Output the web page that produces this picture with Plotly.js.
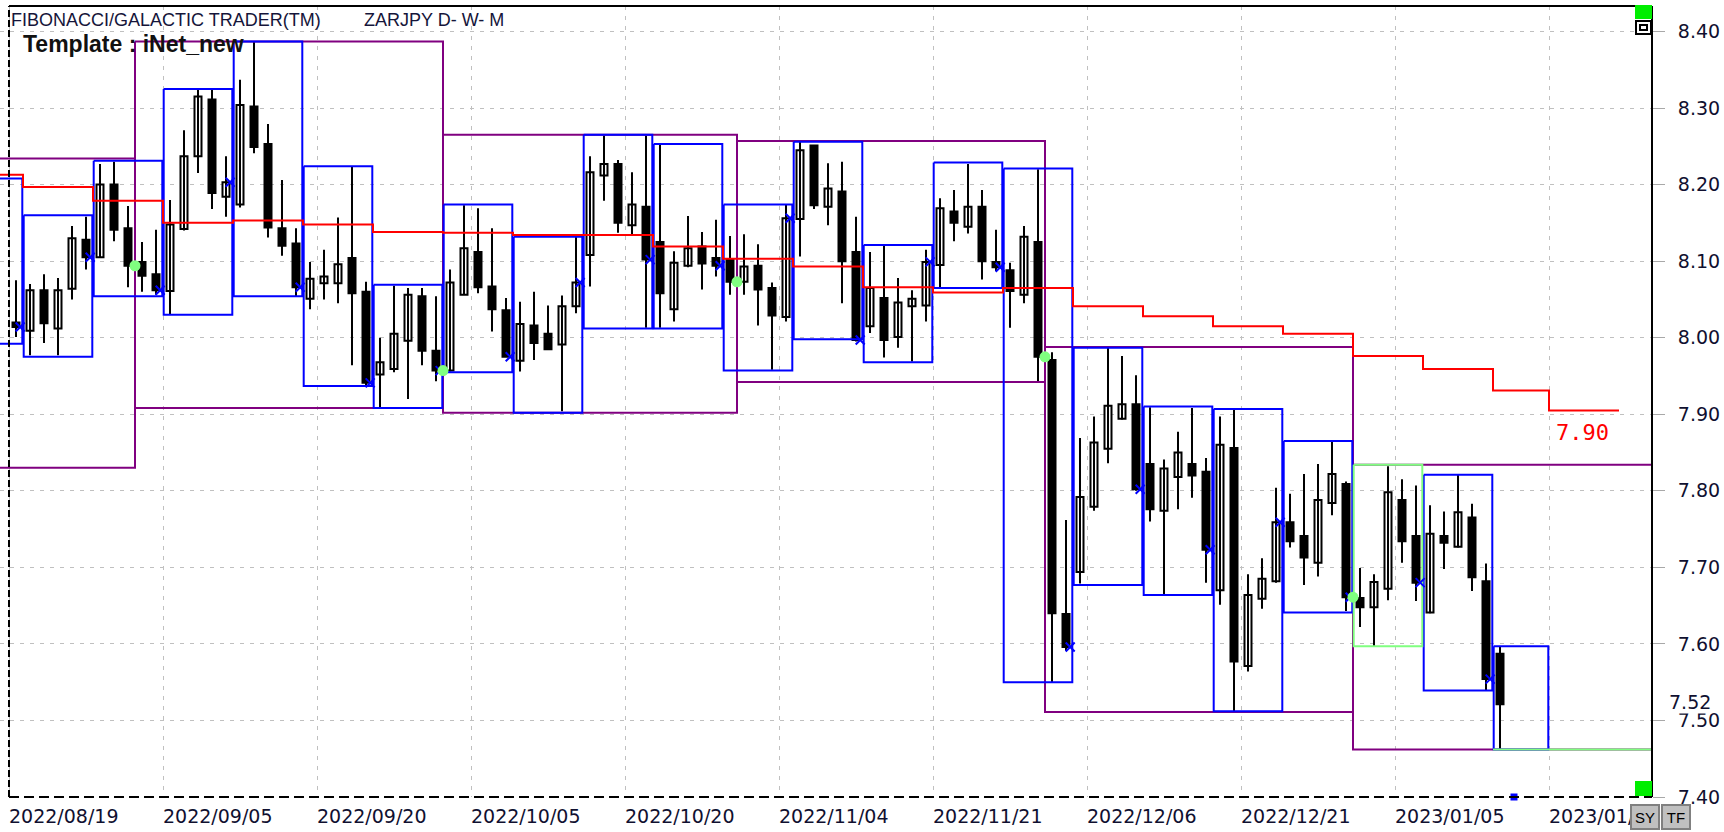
<!DOCTYPE html>
<html><head><meta charset="utf-8">
<script src="https://cdn.plot.ly/plotly-3.0.1.min.js"></script>
<style>html,body{margin:0;padding:0;background:#fff;overflow:hidden}#chart{width:1724px;height:832px}</style>
</head><body><div id="chart"></div>
<script>
// ---------- DATA ----------
const dates = [
'2022/08/19',
'2022/08/22','2022/08/23','2022/08/24','2022/08/25','2022/08/26',
'2022/08/29','2022/08/30','2022/08/31','2022/09/01','2022/09/02',
'2022/09/05','2022/09/06','2022/09/07','2022/09/08','2022/09/09',
'2022/09/12','2022/09/13','2022/09/14','2022/09/15','2022/09/16',
'2022/09/19','2022/09/20','2022/09/21','2022/09/22','2022/09/23',
'2022/09/26','2022/09/27','2022/09/28','2022/09/29','2022/09/30',
'2022/10/03','2022/10/04','2022/10/05','2022/10/06','2022/10/07',
'2022/10/10','2022/10/11','2022/10/12','2022/10/13','2022/10/14',
'2022/10/17','2022/10/18','2022/10/19','2022/10/20','2022/10/21',
'2022/10/24','2022/10/25','2022/10/26','2022/10/27','2022/10/28',
'2022/10/31','2022/11/01','2022/11/02','2022/11/03','2022/11/04',
'2022/11/07','2022/11/08','2022/11/09','2022/11/10','2022/11/11',
'2022/11/14','2022/11/15','2022/11/16','2022/11/17','2022/11/18',
'2022/11/21','2022/11/22','2022/11/23','2022/11/24','2022/11/25',
'2022/11/28','2022/11/29','2022/11/30','2022/12/01','2022/12/02',
'2022/12/05','2022/12/06','2022/12/07','2022/12/08','2022/12/09',
'2022/12/12','2022/12/13','2022/12/14','2022/12/15','2022/12/16',
'2022/12/19','2022/12/20','2022/12/21','2022/12/22','2022/12/23',
'2022/12/26','2022/12/27','2022/12/28','2022/12/29','2022/12/30',
'2023/01/02','2023/01/03','2023/01/04','2023/01/05','2023/01/06',
'2023/01/09','2023/01/10','2023/01/11','2023/01/12','2023/01/13',
'2023/01/16','2023/01/17','2023/01/18','2023/01/19','2023/01/20',
'2023/01/23','2023/01/24','2023/01/25','2023/01/26','2023/01/27',
'2023/01/30'];

const opens = [
8.020,8.009,8.062,8.012,8.064,8.128,8.105,8.200,8.143,8.099,8.083,
8.061,8.142,8.237,8.311,8.184,8.174,8.302,8.253,8.143,8.123,
8.051,8.071,8.071,8.104,8.060,7.952,7.959,7.996,8.054,7.983,
7.957,8.056,8.112,8.067,8.036,7.970,8.016,8.005,7.991,8.041,
8.108,8.212,8.227,8.147,8.171,8.125,8.037,8.094,8.119,8.104,
8.102,8.073,8.094,8.065,8.027,8.155,8.251,8.171,8.191,8.112,
8.015,8.052,8.001,8.041,8.042,8.095,8.165,8.145,8.171,8.099,
8.088,8.056,8.125,7.971,7.639,7.694,7.779,7.855,7.894,7.913,
7.835,7.774,7.818,7.835,7.825,7.670,7.856,7.571,7.659,7.682,
7.759,7.741,7.706,7.784,7.809,7.660,7.648,7.672,7.788,7.741,
7.641,7.741,7.727,7.765,7.682,7.587];
const highs = [
8.075,8.070,8.083,8.078,8.146,8.158,8.227,8.230,8.172,8.125,8.141,
8.180,8.271,8.324,8.324,8.237,8.337,8.387,8.279,8.206,8.143,
8.099,8.115,8.157,8.223,8.073,8.000,8.068,8.065,8.065,8.054,
8.089,8.173,8.169,8.143,8.052,8.047,8.060,8.042,8.055,8.132,
8.237,8.264,8.232,8.216,8.264,8.252,8.113,8.159,8.138,8.154,
8.133,8.135,8.122,8.072,8.174,8.256,8.251,8.228,8.230,8.158,
8.112,8.120,8.078,8.062,8.115,8.182,8.193,8.227,8.193,8.141,
8.098,8.146,8.220,7.981,7.762,7.869,7.897,7.987,7.976,7.951,
7.909,7.841,7.877,7.908,7.843,7.897,7.906,7.691,7.712,7.804,
7.796,7.822,7.835,7.865,7.812,7.699,7.691,7.832,7.815,7.807,
7.781,7.773,7.821,7.783,7.705,7.597];
const lows = [
8.001,7.977,7.993,7.977,8.050,8.089,8.104,8.126,8.066,8.060,8.056,
8.031,8.140,8.215,8.168,8.158,8.170,8.241,8.131,8.107,8.054,
8.037,8.050,8.045,7.964,7.938,7.908,7.955,7.920,7.964,7.943,
7.956,8.056,8.058,8.008,7.975,7.956,7.971,7.985,7.904,8.032,
8.067,8.179,8.137,8.134,8.013,8.013,8.021,8.092,8.063,8.080,
8.056,8.056,8.016,7.958,8.021,8.106,8.168,8.147,8.045,7.995,
8.006,7.974,7.987,7.969,8.021,8.065,8.126,8.136,8.076,8.087,
8.013,8.045,7.942,7.550,7.591,7.679,7.774,7.836,7.893,7.800,
7.760,7.665,7.776,7.791,7.680,7.651,7.512,7.564,7.646,7.680,
7.726,7.677,7.688,7.768,7.643,7.622,7.597,7.657,7.706,7.656,
7.640,7.698,7.726,7.669,7.539,7.462];
const closes = [
8.014,8.062,8.019,8.062,8.130,8.105,8.200,8.141,8.094,8.081,8.062,
8.148,8.237,8.315,8.189,8.203,8.304,8.249,8.144,8.120,8.066,
8.077,8.080,8.096,8.058,7.941,7.968,8.005,8.056,7.983,7.957,
8.072,8.117,8.066,8.037,7.975,8.018,7.993,7.985,8.041,8.072,
8.216,8.227,8.150,8.174,8.102,8.058,8.098,8.117,8.097,8.094,
8.073,8.093,8.063,8.029,8.156,8.245,8.173,8.195,8.100,7.997,
8.065,7.997,8.046,8.051,8.099,8.169,8.150,8.171,8.100,8.092,
8.061,8.132,7.975,7.640,7.596,7.792,7.863,7.911,7.913,7.802,
7.776,7.829,7.850,7.820,7.723,7.860,7.577,7.664,7.685,7.759,
7.734,7.713,7.788,7.822,7.661,7.648,7.681,7.798,7.734,7.680,
7.744,7.732,7.772,7.687,7.554,7.521];

const tickLabels = ['2022/08/19','2022/09/05','2022/09/20','2022/10/05','2022/10/20','2022/11/04',
                    '2022/11/21','2022/12/06','2022/12/21','2023/01/05','2023/01/20'];
const yTicks = [7.40,7.50,7.60,7.70,7.80,7.90,8.00,8.10,8.20,8.30,8.40];

// weekly ranges (first / last bar of each week)
const weekStart = [-4,1,6,11,16,21,26,31,36,41,46,51,56,61,66,71,76,81,86,91,96,101,106];
const weekEnd   = [0,5,10,15,20,25,30,35,40,45,50,55,60,65,70,75,80,85,90,95,100,105,109];
const weekHigh  = [8.208,8.160,8.231,8.325,8.387,8.224,8.069,8.174,8.132,8.265,8.253,8.174,
                   8.256,8.121,8.229,8.221,7.987,7.910,7.907,7.865,7.834,7.821,7.597];
const weekLow   = [7.992,7.975,8.054,8.030,8.054,7.937,7.908,7.955,7.902,8.012,8.012,7.957,
                   7.998,7.968,8.065,7.550,7.677,7.664,7.512,7.641,7.597,7.539,7.462];

// monthly ranges
const monthStart = [-12,9,31,52,74,96];
const monthEnd   = [8,30,51,73,95,117];
const monthHigh  = [8.234,8.387,8.265,8.257,7.988,7.834];
const monthLow   = [7.830,7.908,7.902,7.942,7.511,7.462];

// stepped weekly average (red)
const maStart = [-4,1,6,11,16,21,26,31,36,41,46,51,56,61,66,71,76,81,86,91,96,101,106,110];
const maLevel = [8.213,8.197,8.179,8.150,8.153,8.148,8.138,8.137,8.134,8.134,8.119,8.103,
                 8.093,8.066,8.059,8.065,8.041,8.028,8.015,8.005,7.976,7.959,7.931,7.905];
const maLastBar = 114;
const maLabel = '7.90';
const lastPriceLabel = '7.52';

// ---------- BUILD ----------
const N = opens.length;
const BLUE='#0000FF', PURPLE='#800080', LGREEN='#80FF80', RED='#FF0000';

const wx=[], wy=[];
for (let i=0;i<N;i++){ wx.push(i,i,null); wy.push(lows[i],highs[i],null); }
const up={x:[],b:[],h:[]}, dn={x:[],b:[],h:[]};
for (let i=0;i<N;i++){
  const o=opens[i], c=closes[i], t=(c>=o)?up:dn;
  t.x.push(i); t.b.push(Math.min(o,c)); t.h.push(Math.max(Math.abs(c-o),0.0015));
}
function addBox(p,x0,x1,lo,hi){ p.x.push(x0,x1,x1,x0,x0,null); p.y.push(hi,hi,lo,lo,hi,null); }
const lastMonthStart = monthStart[monthStart.length-1];
const wBlue={x:[],y:[]}, wGreen={x:[],y:[]}, mPurple={x:[],y:[]};
for (let k=0;k<weekStart.length;k++){
  const tgt = (weekStart[k]===lastMonthStart)?wGreen:wBlue;
  addBox(tgt, weekStart[k]-0.45, weekEnd[k]+0.45, weekLow[k], weekHigh[k]);
}
for (let k=0;k<monthStart.length;k++) addBox(mPurple, monthStart[k]-0.5, monthEnd[k]+0.5, monthLow[k], monthHigh[k]);
const lw = weekStart.length-1, lm = monthStart.length-1;
wGreen.x.push(weekStart[lw]-0.5, monthEnd[lm]+0.5, null); wGreen.y.push(monthLow[lm], monthLow[lm], null);

const rx=[], ry=[];
for (let k=0;k<maStart.length;k++){ rx.push(maStart[k]-0.5); ry.push(maLevel[k]); }
rx.push(maLastBar+0.5); ry.push(maLevel[maLevel.length-1]);

const wkX=[], wkY=[];
for (let k=0;k<weekEnd.length;k++) if (weekEnd[k] < N-1){ wkX.push(weekEnd[k]+0.3); wkY.push(closes[weekEnd[k]]); }
const moX=[], moY=[];
for (let k=0;k<monthEnd.length;k++) if (monthEnd[k] >= 0 && monthEnd[k] < N-1){ moX.push(monthEnd[k]+0.5); moY.push(closes[monthEnd[k]]); }

const traces = [
  {type:'scatter',mode:'lines',x:wx,y:wy,line:{color:'#000',width:2},hoverinfo:'skip'},
  {type:'bar',x:up.x,base:up.b,y:up.h,width:0.5,marker:{color:'#fff',line:{color:'#000',width:2}},hoverinfo:'skip'},
  {type:'bar',x:dn.x,base:dn.b,y:dn.h,width:0.5,marker:{color:'#000',line:{color:'#000',width:2}},hoverinfo:'skip'},
  {type:'scatter',mode:'lines',x:mPurple.x,y:mPurple.y,line:{color:PURPLE,width:2},hoverinfo:'skip'},
  {type:'scatter',mode:'lines',x:wBlue.x,y:wBlue.y,line:{color:BLUE,width:2},hoverinfo:'skip'},
  {type:'scatter',mode:'lines',x:wGreen.x,y:wGreen.y,line:{color:LGREEN,width:2},hoverinfo:'skip'},
  {type:'scatter',mode:'lines',x:rx,y:ry,line:{color:RED,width:2,shape:'hv'},hoverinfo:'skip'},
  {type:'scatter',mode:'markers',x:wkX,y:wkY,marker:{symbol:'x-thin',size:9,line:{color:BLUE,width:2}},hoverinfo:'skip'},
  {type:'scatter',mode:'markers',x:moX,y:moY,marker:{symbol:'circle',size:11,color:LGREEN},hoverinfo:'skip'},
  {type:'scatter',mode:'markers',x:[N],y:[yTicks[0]],cliponaxis:false,marker:{symbol:'square',size:7,color:BLUE},hoverinfo:'skip'}
];

const PW = 1652, PT = 6, PB = 797, PH = PB-PT;
const px = v => v/PW, py = v => (PB-v)/PH;
const gridDash = '4px,6px';
const tickFont = {family:'DejaVu Sans, Liberation Sans, sans-serif', size:19, color:'#101030'};
const headFont = {family:'Liberation Sans Narrow, Liberation Sans, sans-serif', size:18, color:'#15153a'};

const layout = {
  width:1724, height:832,
  margin:{l:0,r:1724-PW,t:PT,b:832-PB,pad:0},
  paper_bgcolor:'#fff', plot_bgcolor:'#fff',
  showlegend:false, hovermode:false, barmode:'overlay', bargap:0,
  xaxis:{range:[-1.143,116.857], tickvals:tickLabels.map(d=>dates.indexOf(d)-0.5), ticktext:tickLabels,
         ticklabelposition:'outside right', ticklabelstandoff:6, showgrid:true, gridcolor:'#c0c0c0', griddash:gridDash, gridwidth:1,
         zeroline:false, showline:false, ticks:'', tickfont:tickFont, fixedrange:true},
  yaxis:{range:[7.4,8.4333], side:'right', tickvals:yTicks, ticktext:yTicks.map(v=>v.toFixed(2)),
         ticks:'outside', ticklen:12, tickcolor:'#a8a8a8', tickwidth:1, ticklabelstandoff:9,
         showgrid:true, gridcolor:'#c0c0c0', griddash:gridDash, gridwidth:1, zeroline:false, showline:false,
         tickfont:tickFont, fixedrange:true},
  shapes:[
    {type:'line',xref:'paper',yref:'paper',x0:px(9),x1:1,y0:py(6),y1:py(6),line:{color:'#000',width:2},layer:'above'},
    {type:'line',xref:'paper',yref:'paper',x0:1,x1:1,y0:0,y1:py(6),line:{color:'#000',width:2},layer:'above'},
    {type:'line',xref:'x',yref:'paper',x0:-0.5,x1:-0.5,y0:0,y1:py(6),line:{color:'#000',width:2,dash:'7px,3px'},layer:'above'},
    {type:'line',xref:'paper',yref:'paper',x0:px(9),x1:1,y0:0,y1:0,line:{color:'#000',width:2,dash:'10px,5px'},layer:'above'},
    {type:'rect',xref:'paper',yref:'paper',x0:px(1635),x1:1,y0:py(19),y1:py(5),fillcolor:'#00EE00',line:{width:0},layer:'above'},
    {type:'rect',xref:'paper',yref:'paper',x0:px(1636),x1:px(1651),y0:py(34),y1:py(21),fillcolor:'#fff',line:{color:'#000',width:2},layer:'above'},
    {type:'rect',xref:'paper',yref:'paper',x0:px(1640),x1:px(1647),y0:py(30),y1:py(25),fillcolor:'#fff',line:{color:'#000',width:2},layer:'above'},
    {type:'rect',xref:'paper',yref:'paper',x0:px(1635),x1:1,y0:py(796),y1:py(781),fillcolor:'#00EE00',line:{width:0},layer:'above'}
  ],
  annotations:[
    {xref:'paper',yref:'paper',x:px(9),y:py(20),xanchor:'left',yanchor:'middle',showarrow:false,
     text:'FIBONACCI/GALACTIC TRADER(TM)',font:headFont},
    {xref:'paper',yref:'paper',x:px(362),y:py(20),xanchor:'left',yanchor:'middle',showarrow:false,
     text:'ZARJPY D- W- M',font:headFont},
    {xref:'paper',yref:'paper',x:px(21),y:py(44),xanchor:'left',yanchor:'middle',showarrow:false,
     text:'<b>Template : iNet_new</b>',font:{family:'Liberation Sans, sans-serif',size:23,color:'#111'}},
    {xref:'x',yref:'y',x:maLastBar-2.1,y:maLevel[maLevel.length-1]-0.029,xanchor:'center',yanchor:'middle',showarrow:false,
     text:maLabel,font:{family:'DejaVu Sans Mono, monospace',size:22,color:RED}},
    {xref:'paper',yref:'y',x:px(1668),y:closes[N-1]+0.003,xanchor:'left',yanchor:'middle',showarrow:false,
     text:lastPriceLabel,bgcolor:'#fff',borderpad:0,font:tickFont},
    {xref:'paper',yref:'paper',x:px(1645),y:py(817),xanchor:'center',yanchor:'middle',showarrow:false,
     text:'SY',width:26,height:22,bgcolor:'#c0c0c0',bordercolor:'#808080',borderwidth:2,borderpad:0,
     font:{family:'Liberation Sans, sans-serif',size:15,color:'#000'}},
    {xref:'paper',yref:'paper',x:px(1676),y:py(817),xanchor:'center',yanchor:'middle',showarrow:false,
     text:'TF',width:26,height:22,bgcolor:'#c0c0c0',bordercolor:'#808080',borderwidth:2,borderpad:0,
     font:{family:'Liberation Sans, sans-serif',size:15,color:'#000'}}
  ]
};
Plotly.newPlot('chart', traces, layout, {displayModeBar:false, staticPlot:true});
</script></body></html>
